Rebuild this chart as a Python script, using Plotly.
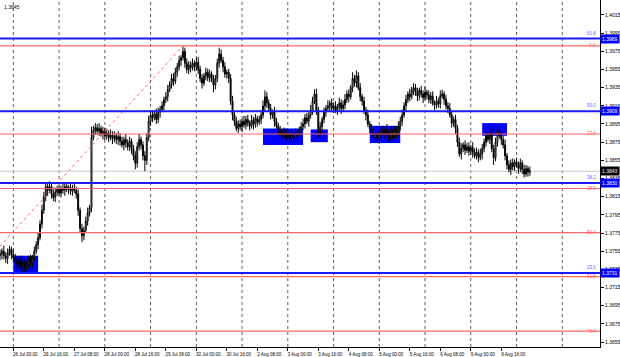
import numpy as np
import pandas as pd
import plotly.graph_objects as go

# ---------------- data ----------------
first_bar_time = "2021-07-23 17:00"
first_open = 1.3750
close = [
    1.3752, 1.3755, 1.3750, 1.3747, 1.3753, 1.3757, 1.3751, 1.3748,
    1.3745, 1.3740, 1.3744, 1.3738, 1.3742, 1.3736, 1.3740, 1.3745,
    1.3742, 1.3748, 1.3755, 1.3762, 1.3770, 1.3785, 1.3800, 1.3815, 1.3826, 1.3822,
    1.3826, 1.3818, 1.3814, 1.3820, 1.3823, 1.3819, 1.3824, 1.3822, 1.3826, 1.3823, 1.3825, 1.3821, 1.3824, 1.3822, 1.3818,
    1.3800, 1.3780, 1.3772, 1.3778, 1.3788, 1.3797, 1.3803,
    1.3880, 1.3888,
    1.3891, 1.3887, 1.3890, 1.3884, 1.3887, 1.3882, 1.3885, 1.3880, 1.3883, 1.3879,
    1.3882, 1.3878, 1.3881, 1.3876, 1.3872, 1.3878, 1.3874, 1.3870, 1.3876, 1.3868,
    1.3860, 1.3852, 1.3870, 1.3878, 1.3872, 1.3860, 1.3855, 1.3880, 1.3898, 1.3905,
    1.3902, 1.3906, 1.3900, 1.3908, 1.3911, 1.3915,
    1.3922, 1.3925, 1.3933, 1.3938, 1.3945, 1.3942, 1.3952,
    1.3958, 1.3965, 1.3968, 1.3975, 1.3962,
    1.3955, 1.3960, 1.3957, 1.3962, 1.3958, 1.3963, 1.3955, 1.3945, 1.3940, 1.3948, 1.3952, 1.3946, 1.3950, 1.3944, 1.3938, 1.3945,
    1.3962, 1.3972, 1.3965,
    1.3958, 1.3950, 1.3952, 1.3945,
    1.3920, 1.3905,
    1.3898, 1.3890, 1.3895, 1.3892, 1.3898, 1.3894, 1.3900, 1.3896, 1.3893, 1.3899, 1.3895, 1.3901, 1.3897, 1.3900, 1.3905,
    1.3915, 1.3925, 1.3918,
    1.3912, 1.3905, 1.3908, 1.3898, 1.3893, 1.3888, 1.3885,
    1.3882, 1.3886, 1.3880, 1.3884, 1.3879, 1.3883, 1.3880, 1.3885, 1.3882, 1.3888, 1.3892,
    1.3895, 1.3902, 1.3898, 1.3905, 1.3910, 1.3920, 1.3928,
    1.3910, 1.3885, 1.3892, 1.3900, 1.3908, 1.3912, 1.3915,
    1.3918, 1.3912, 1.3915, 1.3910, 1.3914, 1.3918, 1.3912, 1.3916, 1.3922, 1.3928, 1.3925,
    1.3935, 1.3945, 1.3940, 1.3948, 1.3935, 1.3925, 1.3920, 1.3910, 1.3905, 1.3895, 1.3890,
    1.3885, 1.3880, 1.3885, 1.3878, 1.3884, 1.3888, 1.3884, 1.3889, 1.3885, 1.3880, 1.3886, 1.3883, 1.3888, 1.3885, 1.3892, 1.3898,
    1.3905, 1.3915, 1.3922, 1.3928, 1.3925, 1.3932,
    1.3935, 1.3930, 1.3926, 1.3932, 1.3928, 1.3924, 1.3930, 1.3927, 1.3922, 1.3926,
    1.3918, 1.3916, 1.3920, 1.3917, 1.3926, 1.3928, 1.3922, 1.3915, 1.3912,
    1.3905, 1.3896, 1.3900, 1.3890, 1.3875, 1.3862,
    1.3868, 1.3872, 1.3866, 1.3870, 1.3865, 1.3869, 1.3864,
    1.3860, 1.3864, 1.3858, 1.3862, 1.3868,
    1.3875, 1.3882, 1.3878, 1.3885,
    1.3868, 1.3858,
    1.3875, 1.3888, 1.3882,
    1.3878, 1.3872,
    1.3860, 1.3850, 1.3845,
    1.3852, 1.3848, 1.3853, 1.3850, 1.3846, 1.3852,
    1.3845, 1.3840, 1.3846, 1.3842, 1.3843,
]
upper_wick_pips = [
    5, 3, 6, 4, 5, 4, 3, 6, 4, 5,
    4, 6, 3, 5, 4, 5, 6, 3, 5, 4,
    5, 4, 6, 5, 4, 3, 6, 4, 5, 5,
    4, 5, 3, 6, 4, 5, 3, 5, 4, 5,
    4, 5, 3, 5, 4, 5, 6, 3, 12, 5,
    5, 4, 6, 3, 5, 4, 5, 3, 6, 4,
    5, 3, 6, 4, 5, 3, 6, 4, 5, 3,
    4, 5, 5, 6, 3, 4, 5, 5, 6, 5,
    5, 3, 6, 5, 4, 5, 3, 5, 5, 4,
    5, 6, 5, 4, 5, 3, 5, 4, 5, 4,
    4, 5, 3, 5, 6, 4, 5, 3, 5, 4,
    5, 3, 5, 4, 5, 7, 5, 4, 5, 3,
    4, 5, 6, 3, 5, 4, 5, 3, 6, 4,
    5, 3, 6, 4, 5, 3, 4, 5, 6, 7,
    5, 4, 5, 3, 6, 4, 3, 5, 4, 5,
    4, 5, 3, 6, 4, 5, 3, 4, 5, 6,
    4, 5, 3, 6, 5, 5, 6, 4, 5, 3,
    5, 4, 6, 3, 5, 4, 5, 3, 6, 4,
    5, 6, 4, 5, 3, 7, 4, 6, 4, 5,
    3, 5, 4, 6, 3, 5, 4, 5, 3, 6,
    4, 5, 3, 6, 4, 5, 3, 5, 4, 6,
    5, 6, 4, 5, 3, 6, 4, 5, 4, 5,
    3, 5, 4, 6, 3, 5, 4, 5, 3, 6,
    4, 6, 5, 3, 5, 4, 6, 5, 3, 5,
    4, 5, 6, 3, 5, 4, 5, 3, 6, 4,
    5, 3, 6, 5, 4, 5, 3, 6, 5, 4,
    5, 4, 3, 5, 4, 6, 3, 5, 4, 5,
    3, 5, 4, 5, 3, 5, 4, 3, 5,
]
lower_wick_pips = [
    5, 6, 4, 5, 6, 3, 5, 4, 3, 6,
    4, 3, 6, 5, 3, 5, 4, 6, 4, 3,
    5, 3, 5, 4, 5, 6, 3, 5, 4, 5,
    4, 3, 5, 4, 6, 3, 5, 4, 5, 3,
    5, 6, 4, 7, 5, 3, 5, 4, 5, 3,
    5, 4, 5, 3, 6, 5, 4, 5, 3, 6,
    4, 5, 6, 5, 3, 6, 5, 4, 5, 6,
    5, 7, 5, 4, 5, 5, 12, 5, 4, 5,
    5, 3, 5, 4, 6, 3, 5, 4, 5, 3,
    4, 5, 3, 5, 4, 6, 3, 5, 4, 5,
    5, 3, 5, 4, 5, 4, 6, 3, 5, 4,
    5, 3, 8, 5, 4, 5, 3, 6, 4, 5,
    5, 4, 6, 5, 3, 5, 4, 6, 3, 5,
    4, 5, 3, 6, 4, 5, 3, 5, 4, 6,
    5, 3, 5, 4, 6, 3, 5, 4, 5, 3,
    5, 4, 4, 3, 5, 4, 6, 3, 5, 4,
    5, 3, 6, 4, 5, 3, 5, 5, 4, 6,
    4, 5, 3, 6, 4, 5, 3, 5, 4, 6,
    3, 5, 4, 6, 3, 5, 4, 5, 3, 5,
    5, 4, 6, 3, 5, 4, 5, 3, 4, 5,
    5, 3, 6, 4, 5, 3, 5, 4, 6, 3,
    4, 5, 3, 6, 4, 5, 3, 5, 4, 6,
    5, 4, 6, 3, 5, 4, 5, 3, 6, 4,
    4, 5, 3, 6, 4, 5, 3, 5, 4, 6,
    5, 3, 6, 4, 5, 3, 5, 4, 6, 3,
    4, 5, 3, 6, 4, 5, 3, 5, 4, 8,
    4, 5, 3, 6, 4, 5, 5, 3, 6, 4,
    5, 3, 6, 4, 5, 4, 3, 5, 4,
]

tick_labels = [
    "26 Jul 00:00", "26 Jul 16:00", "27 Jul 08:00", "28 Jul 00:00", "28 Jul 16:00",
    "29 Jul 08:00", "30 Jul 00:00", "30 Jul 16:00", "2 Aug 08:00", "3 Aug 00:00",
    "3 Aug 16:00", "4 Aug 08:00", "5 Aug 00:00", "5 Aug 16:00", "6 Aug 08:00",
    "9 Aug 00:00", "9 Aug 16:00",
]

blue_levels = [1.3989, 1.3909, 1.3830, 1.3731]
blue_level_names = ["61.8", "50.0", "38.2", "23.6"]

fib_ratios = [0.0, 23.6, 38.2, 50.0, 61.8, 76.4]
fib_low, fib_high = 1.3570, 1.3981
fib_low_time, fib_high_time = "2021-07-20 06:00", "2021-07-29 17:00"

zone_start = ["2021-07-26 00:00", "2021-08-02 11:00", "2021-08-03 12:00", "2021-08-04 19:00", "2021-08-09 06:00"]
zone_end = ["2021-07-26 13:00", "2021-08-03 08:00", "2021-08-03 21:00", "2021-08-05 11:00", "2021-08-09 19:00"]
zone_low = [1.3731, 1.3872, 1.3875, 1.3874, 1.3882]
zone_high = [1.3750, 1.3890, 1.3889, 1.3893, 1.3896]

header_text = "1.3845"

# ---------------- build ----------------
all_times = pd.date_range("2021-07-19 00:00", "2021-08-13 23:00", freq="h")
all_times = all_times[all_times.dayofweek < 5]
pos = {t: k for k, t in enumerate(all_times)}
def P(s):
    return pos[pd.Timestamp(s)]

start = P(first_bar_time)
x = np.arange(start, start + len(close))
c = np.array(close)
o = np.concatenate([[first_open], c[:-1]])
h = np.maximum(o, c) + np.array(upper_wick_pips) * 1e-4
l = np.minimum(o, c) - np.array(lower_wick_pips) * 1e-4

def fmt(t):
    return f"{t.day} {t.strftime('%b')} {t.strftime('%H:%M')}"
label_pos = {fmt(t): k for k, t in enumerate(all_times)}
tickvals = [label_pos[s] for s in tick_labels]

x_range = [start, start + 314.8]
grid_x = [k for k, t in enumerate(all_times) if t.hour == 0 and x_range[0] <= k <= x_range[1]]

BLUE = "#1a1aff"
RED = "#ff6666"

fig = go.Figure()
fig.add_trace(go.Candlestick(
    x=x, open=o, high=h, low=l, close=c,
    increasing=dict(line=dict(color="black", width=1), fillcolor="white"),
    decreasing=dict(line=dict(color="black", width=1), fillcolor="black"),
    whiskerwidth=0, showlegend=False, hoverinfo="skip",
))

# dotted day grid
for gx in grid_x:
    fig.add_shape(type="line", xref="x", yref="paper", x0=gx, x1=gx, y0=0, y1=1,
                  line=dict(color="#606060", width=1, dash="dot"), layer="below")

# blue zones
for s0, s1, lo, hi in zip(zone_start, zone_end, zone_low, zone_high):
    fig.add_shape(type="rect", xref="x", yref="y", x0=P(s0), x1=P(s1), y0=lo, y1=hi,
                  fillcolor="#0000ff", line=dict(width=0), layer="between")

# fibo (red)
fib_levels = [fib_high - r / 100 * (fib_high - fib_low) for r in fib_ratios]
for r, lv in zip(fib_ratios, fib_levels):
    fig.add_shape(type="line", xref="paper", yref="y", x0=0, x1=1, y0=lv, y1=lv,
                  line=dict(color=RED, width=1.2), layer="above")
    fig.add_annotation(xref="paper", yref="y", x=0.997, y=lv, text=f"{r:.1f}",
                       showarrow=False, xanchor="right", yanchor="middle",
                       font=dict(size=4.5, color=RED, family="Liberation Sans"))
fig.add_shape(type="line", xref="x", yref="y", x0=P(fib_low_time), y0=fib_low,
              x1=P(fib_high_time), y1=fib_high,
              line=dict(color=RED, width=1, dash="dot"), layer="above")

# blue levels
for name, lv in zip(blue_level_names, blue_levels):
    fig.add_shape(type="line", xref="paper", yref="y", x0=0, x1=1, y0=lv, y1=lv,
                  line=dict(color=BLUE, width=2), layer="above")
    fig.add_annotation(xref="paper", yref="y", x=0.997, y=lv, text=name,
                       showarrow=False, xanchor="right", yanchor="bottom", yshift=1,
                       font=dict(size=4.5, color="#6060ff", family="Liberation Sans"))
    fig.add_annotation(xref="paper", yref="y", x=1.0, y=lv, text=f"{lv:.4f}",
                       showarrow=False, xanchor="left", yanchor="middle",
                       bgcolor="#0000ff", borderpad=1,
                       font=dict(size=5, color="white", family="Liberation Sans"))

# bid line
last = close[-1]
fig.add_shape(type="line", xref="paper", yref="y", x0=0, x1=1, y0=last, y1=last,
              line=dict(color="#c8c8c8", width=1), layer="below")
fig.add_annotation(xref="paper", yref="y", x=1.0, y=last, text=f"{last:.4f}",
                   showarrow=False, xanchor="left", yanchor="middle",
                   bgcolor="black", borderpad=1,
                   font=dict(size=5, color="white", family="Liberation Sans"))

fig.add_annotation(xref="paper", yref="paper", x=0.004, y=0.995, text=header_text,
                   showarrow=False, xanchor="left", yanchor="top",
                   font=dict(size=5, color="black", family="Liberation Sans"))

fig.update_layout(
    width=620, height=357,
    margin=dict(l=0, r=20, t=0, b=10),
    paper_bgcolor="white", plot_bgcolor="white",
    showlegend=False,
    xaxis=dict(range=x_range, tickmode="array", tickvals=tickvals, ticktext=tick_labels,
               showgrid=False, zeroline=False, showline=True, linecolor="black", linewidth=1,
               ticks="outside", ticklen=3, tickcolor="black",
               tickfont=dict(size=4.5, color="black", family="Liberation Sans"),
               ticklabelshift=12, ticklabelstandoff=0,
               rangeslider=dict(visible=False)),
    yaxis=dict(range=[1.36495, 1.40315], side="right", tick0=1.3655, dtick=0.002,
               tickformat=".4f", showgrid=False, zeroline=False, showline=True,
               linecolor="black", linewidth=1, ticks="outside", ticklen=3, tickcolor="black",
               tickfont=dict(size=5, color="black", family="Liberation Sans")),
)

fig.write_html("out.html")
